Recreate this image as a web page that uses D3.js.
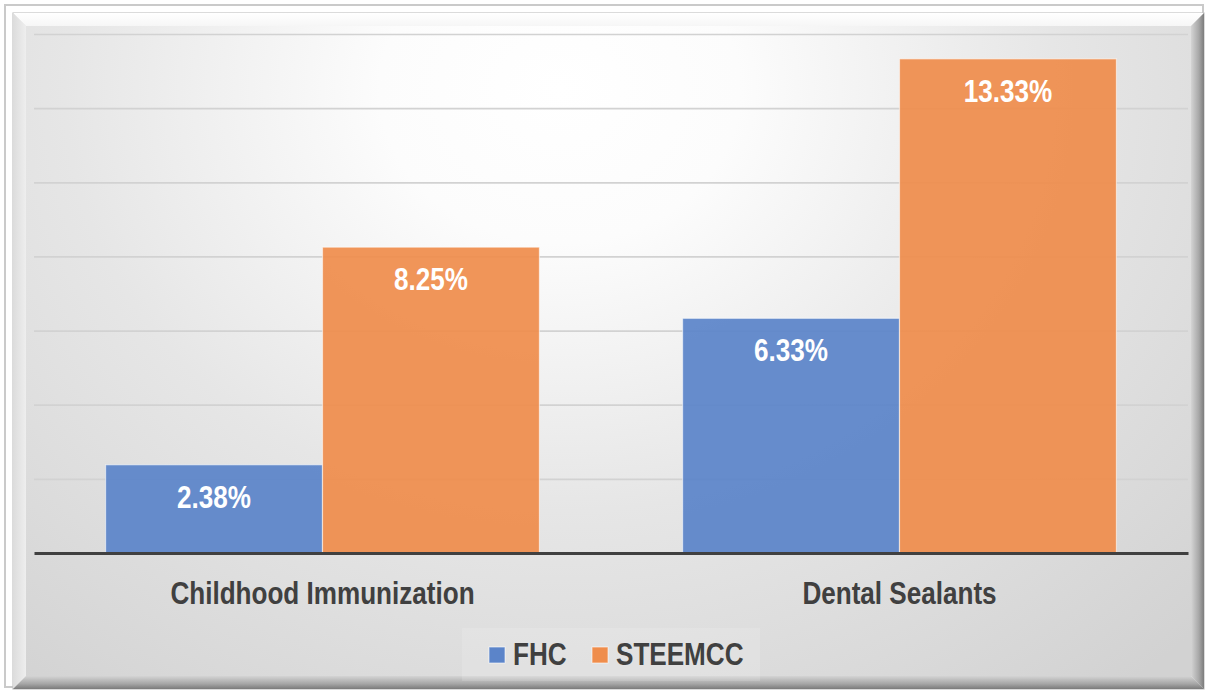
<!DOCTYPE html>
<html>
<head>
<meta charset="utf-8">
<script src="https://cdn.jsdelivr.net/npm/d3@7"></script>
<style>
  html, body { margin: 0; padding: 0; background: #ffffff; }
  svg { display: block; }
  text { font-family: "Liberation Sans Narrow", "Arial Narrow", "Liberation Sans", Arial, sans-serif; font-weight: bold; }
</style>
</head>
<body>
<svg id="chart" width="1207" height="691"></svg>
<script>
// ---- data ----
const categories = ["Childhood Immunization", "Dental Sealants"];
const seriesNames = ["FHC", "STEEMCC"];
const fhcValues = [2.38, 6.33];
const steemccValues = [8.25, 13.33];
const yTicks = [0, 2, 4, 6, 8, 10, 12, 14];
const seriesColors = ["#5b84c9", "#ef8d4c"];

const W = 1207, H = 691;
const FS = 30.5;        // font size
const NARROW = 0.855;   // horizontal condensing to emulate a narrow face
const svg = d3.select("#chart");
const defs = svg.append("defs");

function condense(sel) {
  sel.each(function () {
    const len = this.getComputedTextLength();
    d3.select(this).attr("textLength", len * NARROW).attr("lengthAdjust", "spacingAndGlyphs");
  });
}

// ---- frame / background ----
const bg = defs.append("radialGradient").attr("id", "bgGrad")
  .attr("gradientUnits", "userSpaceOnUse")
  .attr("cx", 560).attr("cy", 90).attr("r", 900)
  .attr("gradientTransform", "translate(560,90) scale(1,0.85) translate(-560,-90)");
bg.append("stop").attr("offset", "0").attr("stop-color", "#ffffff");
bg.append("stop").attr("offset", "0.2").attr("stop-color", "#fcfcfc");
bg.append("stop").attr("offset", "0.55").attr("stop-color", "#e6e6e6");
bg.append("stop").attr("offset", "1").attr("stop-color", "#d2d2d2");

function linGrad(id, x1, y1, x2, y2, stops) {
  const g = defs.append("linearGradient").attr("id", id)
    .attr("x1", x1).attr("y1", y1).attr("x2", x2).attr("y2", y2);
  stops.forEach(s => g.append("stop").attr("offset", s[0]).attr("stop-color", s[1]));
}
linGrad("bevTop", 0, 0, 0, 1, [[0, "#ffffff"], [1, "#f6f6f6"]]);
linGrad("bevLeft", 0, 0, 1, 0, [[0, "#dcdcdc"], [1, "#eeeeee"]]);
linGrad("bevRight", 0, 0, 1, 0, [[0, "#d4d4d4"], [0.6, "#a8a8a8"], [1, "#7c7c7c"]]);
linGrad("bevBottom", 0, 0, 0, 1, [[0, "#d4d4d4"], [0.6, "#a6a6a6"], [1, "#7a7a7a"]]);

svg.append("rect").attr("x", 5).attr("y", 5).attr("width", 1198).attr("height", 682)
  .attr("fill", "#ffffff").attr("stroke", "#cacaca").attr("stroke-width", 2);

const ox0 = 13, oy0 = 13, ox1 = 1204, oy1 = 689, bw = 13;
const ix0 = ox0 + bw, iy0 = oy0 + bw, ix1 = ox1 - bw, iy1 = oy1 - bw;
svg.append("rect").attr("x", ox0).attr("y", oy0).attr("width", ox1 - ox0).attr("height", oy1 - oy0)
  .attr("fill", "#e8e8e8").attr("stroke", "#c4c4c4").attr("stroke-width", 1.2);
svg.append("polygon").attr("points", [[ox0,oy0],[ox1,oy0],[ix1,iy0],[ix0,iy0]].join(" ")).attr("fill", "url(#bevTop)");
svg.append("polygon").attr("points", [[ox0,oy0],[ix0,iy0],[ix0,iy1],[ox0,oy1]].join(" ")).attr("fill", "url(#bevLeft)");
svg.append("polygon").attr("points", [[ix1,iy0],[ox1,oy0],[ox1,oy1],[ix1,iy1]].join(" ")).attr("fill", "url(#bevRight)");
svg.append("polygon").attr("points", [[ix0,iy1],[ix1,iy1],[ox1,oy1],[ox0,oy1]].join(" ")).attr("fill", "url(#bevBottom)");
svg.append("rect").attr("x", ix0).attr("y", iy0).attr("width", ix1 - ix0).attr("height", iy1 - iy0)
  .attr("fill", "url(#bgGrad)");

// ---- scales ----
const plot = { left: 34, right: 1188, top: 34, bottom: 553 };
const y = d3.scaleLinear().domain([0, 14]).range([plot.bottom, plot.top]);
const x0 = d3.scaleBand().domain(categories).range([plot.left, plot.right]).padding(0);
const x1 = d3.scaleBand().domain(seriesNames).range([0, x0.bandwidth()]).paddingInner(0).paddingOuter(0.33);
const color = d3.scaleOrdinal().domain(seriesNames).range(seriesColors);

// ---- gridlines ----
const gridGrad = defs.append("linearGradient").attr("id", "gridGrad")
  .attr("gradientUnits", "userSpaceOnUse").attr("x1", 0).attr("y1", plot.top).attr("x2", 0).attr("y2", plot.bottom);
gridGrad.append("stop").attr("offset", 0).attr("stop-color", "#d2d2d2");
gridGrad.append("stop").attr("offset", 0.5).attr("stop-color", "#b0b0b0");
gridGrad.append("stop").attr("offset", 1).attr("stop-color", "#8a8a8a");

const grid = svg.append("g")
  .attr("transform", `translate(${plot.left},0)`)
  .call(d3.axisLeft(y).tickValues(yTicks.filter(t => t > 0)).tickSize(-(plot.right - plot.left)).tickFormat(""));
grid.select(".domain").remove();
grid.selectAll(".tick line").attr("stroke", "url(#gridGrad)").attr("stroke-width", 1.7);

// ---- bars ----
const rows = categories.map((c, i) => ({ cat: c, vals: [
  { s: seriesNames[0], v: fhcValues[i] },
  { s: seriesNames[1], v: steemccValues[i] }
]}));

const groups = svg.append("g").selectAll("g").data(rows).join("g")
  .attr("transform", d => `translate(${x0(d.cat)},0)`);

groups.selectAll("rect").data(d => d.vals).join("rect")
  .attr("x", d => x1(d.s))
  .attr("y", d => y(d.v))
  .attr("width", x1.bandwidth())
  .attr("height", d => y(0) - y(d.v))
  .attr("fill", d => color(d.s))
  .attr("fill-opacity", 0.93)
  .attr("stroke", "rgba(255,255,255,0.55)")
  .attr("stroke-width", 1.2);

groups.selectAll("text").data(d => d.vals).join("text")
  .attr("x", d => x1(d.s) + x1.bandwidth() / 2)
  .attr("y", d => y(d.v) + 43)
  .attr("text-anchor", "middle")
  .attr("fill", "#ffffff")
  .attr("font-size", FS)
  .text(d => d.v.toFixed(2) + "%")
  .call(condense);

// ---- baseline / x axis ----
const xAxis = svg.append("g")
  .attr("transform", `translate(0,${y(0)})`)
  .call(d3.axisBottom(x0).tickSize(0).tickPadding(51));
xAxis.select(".domain").attr("stroke", "#404040").attr("stroke-width", 3.2);
xAxis.selectAll(".tick text")
  .attr("fill", "#404040")
  .attr("font-size", FS)
  .attr("dy", "0")
  .call(condense);
xAxis.attr("font-family", null);

// ---- legend ----
const legend = svg.append("g");
legend.append("rect").attr("x", 462).attr("y", 628).attr("width", 298).attr("height", 53)
  .attr("fill", "#ffffff").attr("fill-opacity", 0.14);
const legX = [489, 592];
const li = legend.selectAll("g.item").data(seriesNames).join("g").attr("class", "item")
  .attr("transform", (d, i) => `translate(${legX[i]},647)`);
li.append("rect").attr("width", 16).attr("height", 16).attr("fill", d => color(d))
  .attr("stroke", "rgba(255,255,255,0.6)").attr("stroke-width", 1);
li.append("text").attr("x", 24).attr("y", 17.5).attr("fill", "#404040").attr("font-size", FS).text(d => d)
  .call(condense);
</script>
</body>
</html>
